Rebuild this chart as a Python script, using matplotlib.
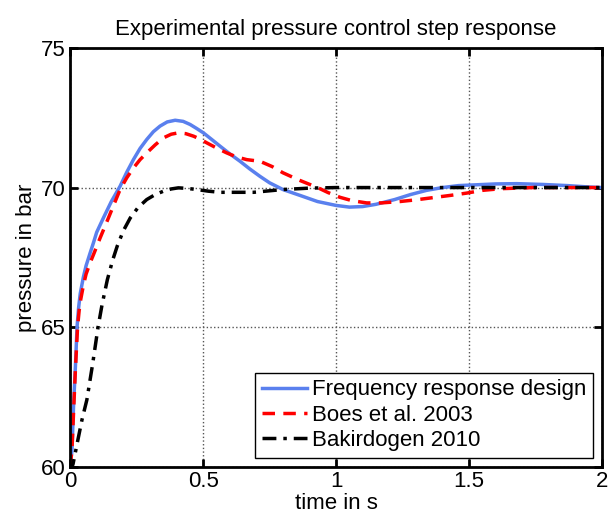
import numpy as np
import matplotlib
matplotlib.use("Agg")
import matplotlib.pyplot as plt

plt.rcParams['font.family'] = ['Liberation Sans', 'DejaVu Sans']

# Frequency response design (blue)
t_freq = [0, 0.007, 0.013, 0.02, 0.026, 0.032, 0.038, 0.05, 0.06, 0.075, 0.087, 0.1,
          0.125, 0.155, 0.188, 0.213, 0.238, 0.263, 0.288, 0.313, 0.338, 0.365, 0.395,
          0.425, 0.451, 0.475, 0.501, 0.53, 0.564, 0.6, 0.639, 0.675, 0.714, 0.75,
          0.8, 0.87, 0.93, 1.0, 1.05, 1.1, 1.15, 1.22, 1.28, 1.34, 1.4, 1.46, 1.53,
          1.6, 1.68, 1.78, 1.87, 1.95, 2.0]
p_freq = [60, 60.6, 62.2, 63.6, 65, 65.7, 66.2, 66.8, 67.2, 67.65, 68.0, 68.4,
          68.91, 69.5, 70.05, 70.55, 71.0, 71.4, 71.72, 72.0, 72.2, 72.35, 72.41,
          72.37, 72.26, 72.12, 71.96, 71.74, 71.48, 71.21, 70.94, 70.67, 70.4, 70.17,
          69.93, 69.7, 69.5, 69.36, 69.3, 69.32, 69.4, 69.57, 69.75, 69.9, 70.0, 70.07, 70.1,
          70.13, 70.14, 70.11, 70.07, 70.02, 70.0]

# Boes et al. 2003 (red)
t_boes = [0, 0.007, 0.014, 0.02, 0.028, 0.034, 0.04, 0.05, 0.06, 0.075, 0.09, 0.113,
          0.144, 0.165, 0.188, 0.213, 0.238, 0.263, 0.288, 0.32, 0.351, 0.38, 0.407,
          0.435, 0.464, 0.49, 0.514, 0.55, 0.589, 0.625, 0.664, 0.714, 0.76, 0.8,
          0.86, 0.93, 0.97, 1.015, 1.06, 1.115, 1.17, 1.24, 1.3, 1.365, 1.43, 1.49,
          1.55, 1.62, 1.74, 2.0]
p_boes = [60, 60.6, 62.2, 63.5, 65, 65.6, 66.0, 66.5, 66.9, 67.3, 67.65, 68.2,
          68.91, 69.4, 69.93, 70.35, 70.7, 71.0, 71.24, 71.53, 71.78, 71.91, 71.96,
          71.93, 71.84, 71.73, 71.6, 71.42, 71.24, 71.1, 71.0, 70.94, 70.75, 70.53,
          70.27, 70.0, 69.82, 69.65, 69.53, 69.45, 69.45, 69.5, 69.56, 69.64, 69.72, 69.8,
          69.9, 69.96, 70.0, 70.0]

# Bakirdogen 2010 (black)
t_bak = [0, 0.011, 0.03, 0.045, 0.063, 0.085, 0.105, 0.12, 0.14, 0.16, 0.177, 0.2,
         0.226, 0.255, 0.288, 0.32, 0.351, 0.38, 0.407, 0.44, 0.476, 0.52, 0.564,
         0.69, 0.8, 0.9, 1.0, 1.5, 2.0]
p_bak = [59.8, 60.1, 61.0, 61.7, 62.4, 63.7, 65, 65.8, 66.7, 67.4, 67.9, 68.45,
         68.91, 69.28, 69.57, 69.75, 69.87, 69.95, 69.99, 69.97, 69.93, 69.87, 69.83,
         69.83, 69.93, 69.98, 70.0, 70.0, 70.0]

labels = ['Frequency response design', 'Boes et al. 2003', 'Bakirdogen 2010']

fig = plt.figure(figsize=(6.15, 5.21), dpi=100)
ax = fig.add_axes([0.114, 0.104, 0.865, 0.804])

ax.plot(t_freq, p_freq, color='#5a80ee', lw=2.5, label=labels[0])
ax.plot(t_boes, p_boes, color='#ff0000', lw=2.5, ls=(0, (3.6, 2.4)), label=labels[1])
ax.plot(t_bak, p_bak, color='black', lw=2.5, ls=(0, (4, 2, 1, 2)), label=labels[2])

ax.set_xlim(0, 2)
ax.set_ylim(60, 75)
ax.set_xticks([0, 0.5, 1, 1.5, 2])
ax.set_xticklabels(['0', '0.5', '1', '1.5', '2'])
ax.set_yticks([60, 65, 70, 75])
ax.grid(True, color='#555555', ls=':', lw=1)
ax.tick_params(direction='in', top=True, right=True, labelsize=16, width=2, length=6, pad=3)
for s in ax.spines.values():
    s.set_linewidth(2)

ax.set_xlabel('time in s', fontsize=16, labelpad=1)
ax.set_ylabel('pressure in bar', fontsize=16, labelpad=3)
ax.set_title('Experimental pressure control step response', fontsize=16, pad=9)

leg = ax.legend(loc='lower right', fontsize=16, fancybox=False, edgecolor='black',
                framealpha=1, handlelength=2.0, handletextpad=0.25, borderpad=0.3,
                labelspacing=0.2, borderaxespad=0.4)
leg.get_frame().set_linewidth(1)

fig.savefig('out.png', dpi=100)
